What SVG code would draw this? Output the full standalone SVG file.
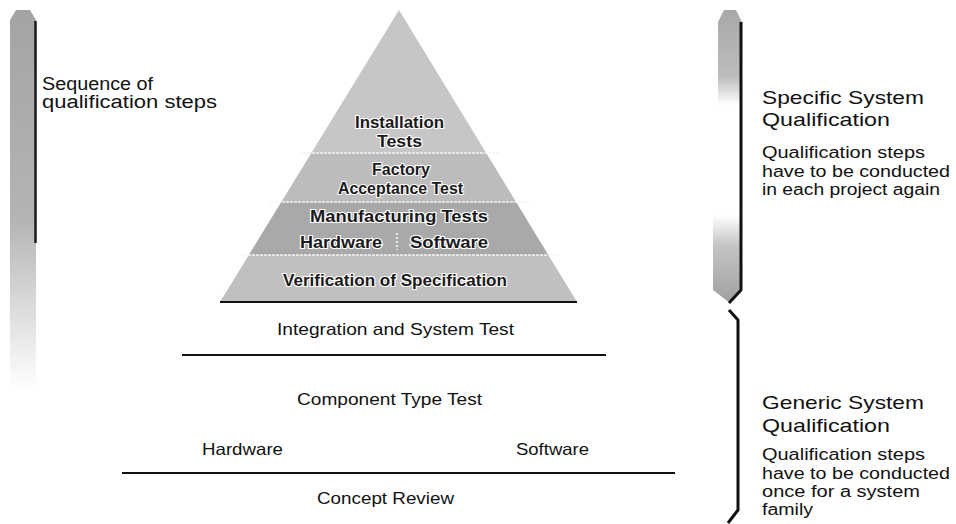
<svg xmlns="http://www.w3.org/2000/svg" width="956" height="524" viewBox="0 0 956 524">
<defs>
<style>
text{font-family:"Liberation Sans",Arial,sans-serif;fill:#111}
.lbl{font-size:16.5px}
.pyr{font-size:16px;stroke:#fff;stroke-width:2.2px;paint-order:stroke;font-weight:bold;fill:#1a1a1a}
.head{font-size:19px}
.small{font-size:16px}
.seq{font-size:18px}
.rule{stroke:#111;stroke-width:2;fill:none}
.div{stroke:#f4f4f4;stroke-width:1.5;stroke-dasharray:3 1}
.dark{stroke:#111;stroke-width:3;fill:none;stroke-linejoin:round}
</style>
<linearGradient id="leftBar" x1="0" y1="0" x2="0" y2="1">
<stop offset="0" stop-color="#a4a4a4"/>
<stop offset="0.55" stop-color="#b4b4b4"/>
<stop offset="0.8" stop-color="#dedede"/>
<stop offset="1" stop-color="#ffffff"/>
</linearGradient>
<linearGradient id="topBump" x1="0" y1="0" x2="0" y2="1">
<stop offset="0" stop-color="#a8a8a8"/>
<stop offset="0.7" stop-color="#bdbdbd"/>
<stop offset="1" stop-color="#ffffff"/>
</linearGradient>
<linearGradient id="botBump" x1="0" y1="0" x2="0" y2="1">
<stop offset="0" stop-color="#ffffff"/>
<stop offset="0.35" stop-color="#c4c4c4"/>
<stop offset="1" stop-color="#a0a0a0"/>
</linearGradient>
<clipPath id="tri"><polygon points="399,10 220,302 577,302"/></clipPath>
</defs>

<g id="sequence-bar">
<path d="M10,20 L16,10 L30,10 L36,20 L36,390 L10,390 Z" fill="url(#leftBar)"/>
<line x1="35.5" y1="21" x2="35.5" y2="243" stroke="#1a1a1a" stroke-width="2.5"/>
<text class="seq" x="42" y="90" textLength="111" lengthAdjust="spacingAndGlyphs">Sequence of</text>
<text class="seq" x="42" y="108" textLength="175" lengthAdjust="spacingAndGlyphs">qualification steps</text>
</g>

<g id="pyramid">
<g clip-path="url(#tri)">
<rect x="220" y="10" width="357" height="143" fill="#c6c6c6"/>
<rect x="220" y="153" width="357" height="49" fill="#bcbcbc"/>
<rect x="220" y="202" width="357" height="53" fill="#a9a9a9"/>
<rect x="220" y="255" width="357" height="47" fill="#c0c0c0"/>
</g>
<line class="div" x1="300" y1="153" x2="500" y2="153"/>
<line class="div" x1="270" y1="202" x2="530" y2="202"/>
<line class="div" x1="240" y1="255" x2="560" y2="255"/>
<line x1="220" y1="302" x2="577" y2="302" stroke="#111" stroke-width="2"/>
</g>

<g id="installation-tests">
<text class="pyr" x="355" y="128" textLength="89" lengthAdjust="spacingAndGlyphs">Installation</text>
<text class="pyr" x="377" y="147" textLength="45" lengthAdjust="spacingAndGlyphs">Tests</text>
</g>
<g id="factory-acceptance-test">
<text class="pyr" x="372" y="175" textLength="58" lengthAdjust="spacingAndGlyphs">Factory</text>
<text class="pyr" x="338" y="194" textLength="125" lengthAdjust="spacingAndGlyphs">Acceptance Test</text>
</g>
<g id="manufacturing-tests">
<text class="pyr" x="310" y="222" textLength="178" lengthAdjust="spacingAndGlyphs">Manufacturing Tests</text>
<text class="pyr" x="300" y="248" textLength="82" lengthAdjust="spacingAndGlyphs">Hardware</text>
<line x1="397" y1="233" x2="397" y2="250" stroke="#fff" stroke-width="1.5" stroke-dasharray="2 2"/>
<text class="pyr" x="410" y="248" textLength="78" lengthAdjust="spacingAndGlyphs">Software</text>
</g>
<g id="verification-of-specification">
<text class="pyr" x="283" y="286" textLength="224" lengthAdjust="spacingAndGlyphs">Verification of Specification</text>
</g>

<g id="integration-and-system-test">
<text class="lbl" x="277" y="335" textLength="237" lengthAdjust="spacingAndGlyphs">Integration and System Test</text>
</g>
<line class="rule" x1="182" y1="355" x2="606" y2="355"/>

<g id="component-type-test">
<text class="lbl" x="297" y="405" textLength="185" lengthAdjust="spacingAndGlyphs">Component Type Test</text>
<text class="lbl" x="202" y="455" textLength="81" lengthAdjust="spacingAndGlyphs">Hardware</text>
<text class="lbl" x="516" y="455" textLength="73" lengthAdjust="spacingAndGlyphs">Software</text>
</g>
<line class="rule" x1="122" y1="473" x2="675" y2="473"/>

<g id="concept-review">
<text class="lbl" x="317" y="504" textLength="137" lengthAdjust="spacingAndGlyphs">Concept Review</text>
</g>

<g id="specific-bracket">
<path d="M718,22 L724,10 L736,10 L742,22 L742,105 L718,105 Z" fill="url(#topBump)"/>
<path d="M713,215 L742,215 L742,290 L730,303 L713,290 Z" fill="url(#botBump)"/>
<path class="dark" d="M741,22 L741,290 L729,303"/>
</g>
<g id="generic-bracket">
<path class="dark" d="M729,310 L738,320 L738,510 L728,523"/>
</g>

<g id="specific-system-qualification">
<text class="head" x="762" y="104" textLength="162" lengthAdjust="spacingAndGlyphs">Specific System</text>
<text class="head" x="762" y="126" textLength="128" lengthAdjust="spacingAndGlyphs">Qualification</text>
<text class="small" x="762" y="158" textLength="163" lengthAdjust="spacingAndGlyphs">Qualification steps</text>
<text class="small" x="762" y="177" textLength="188" lengthAdjust="spacingAndGlyphs">have to be conducted</text>
<text class="small" x="762" y="195" textLength="178" lengthAdjust="spacingAndGlyphs">in each project again</text>
</g>

<g id="generic-system-qualification">
<text class="head" x="762" y="409" textLength="162" lengthAdjust="spacingAndGlyphs">Generic System</text>
<text class="head" x="762" y="432" textLength="128" lengthAdjust="spacingAndGlyphs">Qualification</text>
<text class="small" x="762" y="460" textLength="163" lengthAdjust="spacingAndGlyphs">Qualification steps</text>
<text class="small" x="762" y="479" textLength="188" lengthAdjust="spacingAndGlyphs">have to be conducted</text>
<text class="small" x="762" y="497" textLength="158" lengthAdjust="spacingAndGlyphs">once for a system</text>
<text class="small" x="762" y="515" textLength="51" lengthAdjust="spacingAndGlyphs">family</text>
</g>
</svg>
